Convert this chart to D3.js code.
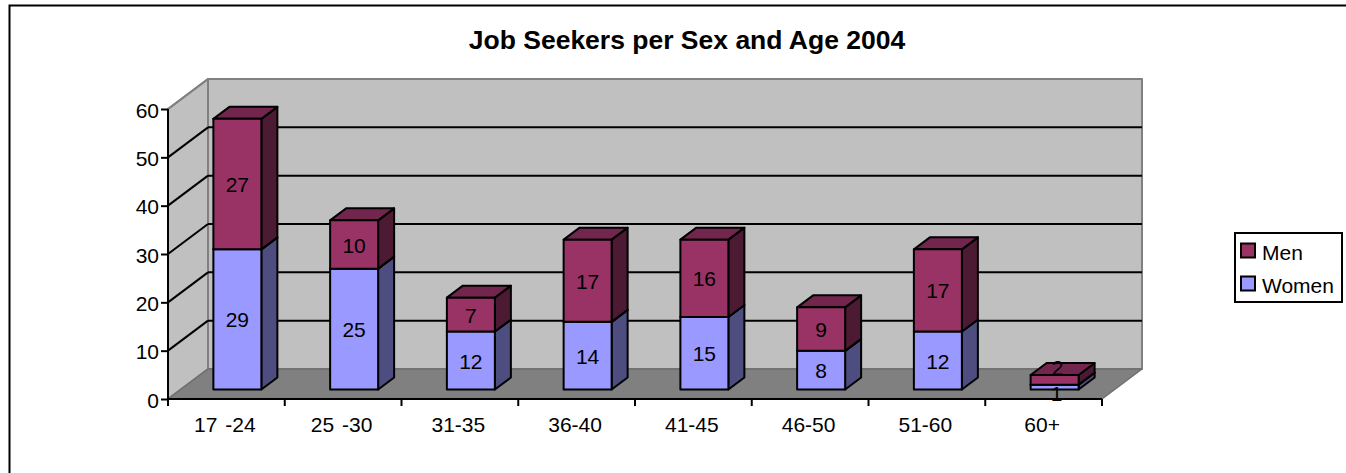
<!DOCTYPE html>
<html><head><meta charset="utf-8">
<script src="https://cdn.jsdelivr.net/npm/d3@7"></script>
<style>html,body{margin:0;padding:0;background:#fff}svg{display:block}text{font-family:"Liberation Sans",Arial,sans-serif;fill:#000}</style>
</head><body><div id="c"></div>
<script>
const categories=["17 -24","25 -30","31-35","36-40","41-45","46-50","51-60","60+"];
const women=[29,25,12,14,15,8,12,1];
const men=[27,10,7,17,16,9,17,2];
const yTicks=[0,10,20,30,40,50,60];
const seriesNames=["Men","Women"];
const W=1346,H=473;
const svg=d3.select("#c").append("svg").attr("width",W).attr("height",H);
svg.append("path").attr("d",`M9.5,${H}V5.5H${W}`).attr("fill","none").attr("stroke","#000").attr("stroke-width",2);
svg.append("text").attr("x",687).attr("y",49).attr("text-anchor","middle").attr("font-weight","bold").attr("font-size",26.5).text("Job Seekers per Sex and Age 2004");
const x=d3.scaleBand().domain(categories).range([168,1102]);
const y=d3.scaleLinear().domain([0,60]).range([399,109]);
const dx=40,dy=-30,bw=48,bdx=16,bdy=-12;
const g=svg.append("g");
const poly=(p,fill,stroke,sw)=>g.append("polygon").attr("points",p.map(d=>d.join(",")).join(" ")).attr("fill",fill).attr("stroke",stroke||"none").attr("stroke-width",sw||0).attr("stroke-linejoin","round");
const xl=168,xr=1102,y0=y(0),yt=y(60);
poly([[xl+dx,y0+dy],[xr+dx,y0+dy],[xr+dx,yt+dy],[xl+dx,yt+dy]],"#c0c0c0","#808080",2);
poly([[xl,y0],[xl+dx,y0+dy],[xl+dx,yt+dy],[xl,yt]],"#c0c0c0","#808080",2);
poly([[xl,y0],[xr,y0],[xr+dx,y0+dy],[xl+dx,y0+dy]],"#808080","#6e6e6e",1.5);
yTicks.filter(t=>t>0).forEach(t=>{
  if(t<60){g.append("line").attr("x1",xl+dx).attr("x2",xr+dx).attr("y1",y(t)+dy).attr("y2",y(t)+dy).attr("stroke","#000").attr("stroke-width",2);}
  g.append("path").attr("d",`M${xl},${y(t)}L${xl+dx},${y(t)+dy}`).attr("stroke",t<60?"#000":"#808080").attr("stroke-width",2).attr("fill","none");
});
const base=y0-9.5, unit=y(0)-y(1);
function box(x0,v0,v1,cF,cT,cS){
  const yb=base-v0*unit,ye=base-v1*unit;
  const s="#000",w=2;
  poly([[x0+bw,yb],[x0+bw+bdx,yb+bdy],[x0+bw+bdx,ye+bdy],[x0+bw,ye]],cS,s,w);
  poly([[x0,ye],[x0+bw,ye],[x0+bw+bdx,ye+bdy],[x0+bdx,ye+bdy]],cT,s,w);
  poly([[x0,yb],[x0+bw,yb],[x0+bw,ye],[x0,ye]],cF,s,w);
}
const labels=[];
categories.forEach((c,i)=>{
  const x0=x(c)+(x.bandwidth()-bw)/2+11;
  box(x0,0,women[i],"#9999ff","#7373bf","#4d4d80");
  box(x0,women[i],women[i]+men[i],"#993366","#73264d","#4d1a33");
  const last=i===categories.length-1;
  labels.push([x0+bw/2+(last?2:0),base-women[i]/2*unit+(last?6:0),women[i]],[x0+bw/2+(last?3:0),base-(women[i]+men[i]/2)*unit+(last?-13:0),men[i]]);
});
labels.forEach(l=>g.append("text").attr("x",l[0]).attr("y",l[1]+8).attr("text-anchor","middle").attr("font-size",21).text(l[2]));
const ax=svg.append("g").attr("transform",`translate(${xl},0)`).call(d3.axisLeft(y).tickValues(yTicks).tickSize(7).tickPadding(2));
ax.selectAll("path,line").attr("stroke","#000").attr("stroke-width",2);
ax.selectAll("text").attr("font-size",21).attr("dy",null).attr("y",8);
ax.select(".domain").attr("d",`M0,${yt}V${y0+1}`);
const bx=svg.append("g").attr("transform",`translate(0,${y0})`).call(d3.axisBottom(x).tickSize(7).tickPadding(14).tickSizeOuter(0));
bx.selectAll(".tick line").remove();
bx.selectAll("path").attr("stroke","#000").attr("stroke-width",2);
bx.selectAll("text").attr("font-size",21).attr("dy",null).attr("y",33).attr("x",-1.5).style("word-spacing","2px");
bx.select(".domain").attr("d",`M${xl},0H${xr}`);
[...categories.map(c=>x(c)),xr].forEach(v=>bx.append("line").attr("x1",v).attr("x2",v).attr("y1",0).attr("y2",7).attr("stroke","#000").attr("stroke-width",2));
const lg=svg.append("g");
lg.append("rect").attr("x",1235).attr("y",233).attr("width",107).attr("height",69).attr("fill","#fff").attr("stroke","#000").attr("stroke-width",2);
const lc=d3.scaleOrdinal().domain(seriesNames).range(["#993366","#9999ff"]);
const ly=d3.scalePoint().domain(seriesNames).range([250.5,283.5]);
seriesNames.forEach(n=>{
  lg.append("rect").attr("x",1241).attr("y",ly(n)-7).attr("width",14).attr("height",14).attr("fill",lc(n)).attr("stroke","#000").attr("stroke-width",2);
  lg.append("text").attr("x",1262).attr("y",ly(n)+9.5).attr("font-size",21).text(n);
});
</script></body></html>
